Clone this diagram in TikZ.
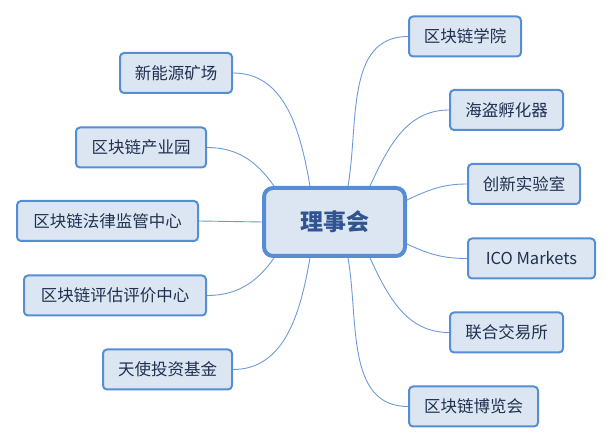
\documentclass[tikz,border=0pt]{standalone}
\usepackage{fontspec}
\setmainfont{Noto Sans CJK SC}
\usetikzlibrary{calc,backgrounds}
\definecolor{boxfill}{HTML}{DCE6F2}
\definecolor{boxline}{HTML}{558ED5}
\definecolor{linkline}{HTML}{6E9AD8}
\definecolor{labeltext}{HTML}{1F3050}
\definecolor{hubtext}{HTML}{2F5490}
\begin{document}
\begin{tikzpicture}[x=1pt,y=1pt,
  topic/.style={draw=boxline, fill=boxfill, line width=2pt, rounded corners=4pt,
    minimum height=40pt, inner sep=0pt, text=labeltext,
    font=\fontsize{16.5}{18}\selectfont},
  hub/.style={draw=boxline, fill=boxfill, line width=4pt, rounded corners=9pt,
    minimum width=141pt, minimum height=68pt, inner sep=0pt, text=hubtext,
    font=\fontsize{23}{26}\selectfont\bfseries},
  link/.style={draw=linkline, line width=0.9pt}]
\useasboundingbox (0,0) rectangle (613,444);

% central topic
\node[hub] (hub) at (334.5,222) {理事会};

% left branch
\node[topic, minimum width=112pt] (mine)  at (176,371)   {新能源矿场};
\node[topic, minimum width=130pt] (park)  at (141,296.5) {区块链产业园};
\node[topic, minimum width=181pt] (law)   at (107.5,223) {区块链法律监管中心};
\node[topic, minimum width=182pt] (eval)  at (115,148.5) {区块链评估评价中心};
\node[topic, minimum width=129pt] (angel) at (167.5,74.5) {天使投资基金};

% right branch
\node[topic, minimum width=112pt] (acad)  at (465,407.5) {区块链学院};
\node[topic, minimum width=113pt] (pirate) at (506.5,334) {海盗孵化器};
\node[topic, minimum width=112pt] (lab)   at (524,260)   {创新实验室};
\node[topic, minimum width=127pt] (ico)   at (531.5,185.5) {ICO Markets};
\node[topic, minimum width=113pt] (exch)  at (506.5,111.5) {联合交易所};
\node[topic, minimum width=129pt] (expo)  at (473.5,37.5) {区块链博览会};

% attachment points on the central box
\coordinate (tL2) at ($(hub.north)+(-60.5,0)$);
\coordinate (tL1) at ($(hub.north)+(-24.5,0)$);
\coordinate (tR1) at ($(hub.north)+(13.5,0)$);
\coordinate (tR2) at ($(hub.north)+(35.5,0)$);
\coordinate (bL2) at ($(hub.south)+(-60.5,0)$);
\coordinate (bL1) at ($(hub.south)+(-24.5,0)$);
\coordinate (bR1) at ($(hub.south)+(13.5,0)$);
\coordinate (bR2) at ($(hub.south)+(35.5,0)$);
\coordinate (rU) at ($(hub.east)+(0,22)$);
\coordinate (rD) at ($(hub.east)+(0,-22)$);

% connectors, behind the boxes
\begin{scope}[on background layer]
  \draw[link] (mine.east)  to[out=0,in=100] (tL1);
  \draw[link] (park.east)  to[out=0,in=125] (tL2);
  \draw[link] (law.east)   -- (hub.west);
  \draw[link] (eval.east)  to[out=0,in=235] (bL2);
  \draw[link] (angel.east) to[out=0,in=260] (bL1);
  \draw[link] (acad.west)  to[out=180,in=80] (tR1);
  \draw[link] (pirate.west) to[out=180,in=65] (tR2);
  \draw[link] (lab.west)   to[out=180,in=25] (rU);
  \draw[link] (ico.west)   to[out=180,in=-25] (rD);
  \draw[link] (exch.west)  to[out=180,in=-65] (bR2);
  \draw[link] (expo.west)  to[out=180,in=-80] (bR1);
\end{scope}
\end{tikzpicture}
\end{document}
